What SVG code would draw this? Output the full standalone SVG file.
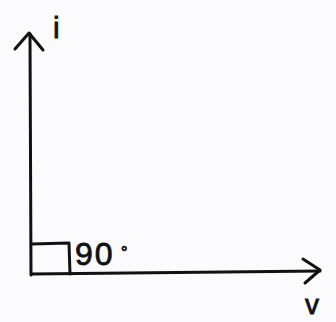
<svg xmlns="http://www.w3.org/2000/svg" width="336" height="322" viewBox="0 0 336 322">
<style>
.ln{stroke:#111;stroke-width:3;fill:none;stroke-linecap:round;stroke-linejoin:round}
.t{font-family:"Liberation Sans",Arial,sans-serif;fill:#111;stroke:#111;stroke-width:0.8}
</style>
<rect width="336" height="322" fill="#fbfbfd"/>
<g id="connectors">
<path id="axis-i" class="ln" d="M31,275 L30,34"/>
<path class="ln" d="M15,49 L29,33 L43,50"/>
<path id="axis-v" class="ln" d="M32,274 L320,271"/>
<path class="ln" d="M303,259 L320,270 L305,283"/>
</g>
<g id="right-angle">
<path class="ln" d="M32,244 L69,243 L70,274"/>
<text class="t" x="75" y="265" font-size="32" letter-spacing="2">90</text>
<text class="t" x="121" y="258" font-size="16">°</text>
</g>
<g id="label-i"><text class="t" x="53" y="38" font-size="30">i</text></g>
<g id="label-v"><text class="t" x="305" y="314" font-size="28">v</text></g>
</svg>
